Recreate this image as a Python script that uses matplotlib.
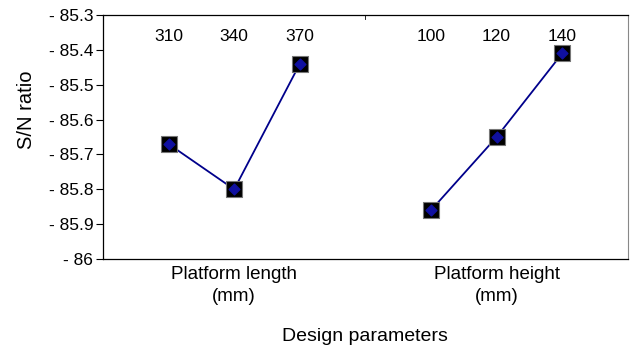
import matplotlib
matplotlib.use("Agg")
import matplotlib.pyplot as plt

# ── data ──────────────────────────────────────────────────────────────────────
groups = ["Platform length\n(mm)", "Platform height\n(mm)"]
length_levels = ["310", "340", "370"]
length_sn = [-85.67, -85.80, -85.44]
height_levels = ["100", "120", "140"]
height_sn = [-85.86, -85.65, -85.41]
yticks = [-86.0, -85.9, -85.8, -85.7, -85.6, -85.5, -85.4, -85.3]

plt.rcParams["font.family"] = ["Liberation Sans", "DejaVu Sans"]

fig = plt.figure(figsize=(6.3, 3.51), dpi=100)
ax = fig.add_axes([0.1635, 0.262, 0.833, 0.695])

navy = "#00008b"
pos_len = [1, 2, 3]
pos_hgt = [5, 6, 7]

for pos, vals, labs in [(pos_len, length_sn, length_levels),
                        (pos_hgt, height_sn, height_levels)]:
    ax.plot(pos, vals, color=navy, lw=1.3, zorder=2)
    ax.scatter(pos, vals, marker="s", s=120, color="black",
               edgecolors="#777777", linewidths=0.8, zorder=3)
    ax.scatter(pos, vals, marker="D", s=30, color="#1010a0",
               edgecolors="#1010a0", zorder=4)
    for p, lab in zip(pos, labs):
        ax.text(p, -85.362, lab, ha="center", va="center", fontsize=12.5)

ax.set_xlim(0, 8)
ax.set_ylim(-86, -85.3)
ax.set_yticks(yticks)
ax.set_yticklabels(["- 86" if v == -86 else f"- {abs(v):.1f}" for v in yticks],
                   fontsize=12.5)
ax.tick_params(axis="y", direction="out", length=5, width=0.8, pad=2)

# category axis: boundary tick only, labels below
ax.set_xticks([4])
ax.set_xticklabels([""])
ax.tick_params(axis="x", direction="in", length=0)
ax.plot([4, 4], [-85.3, -85.31], color="black", lw=0.6, clip_on=False)
for c, g in zip([2, 6], groups):
    ax.text(c, -86.02, g, ha="center", va="top", fontsize=13.5,
            linespacing=1.35)

for s in ["left", "top", "bottom"]:
    ax.spines[s].set_color("black")
    ax.spines[s].set_linewidth(0.9)
ax.spines["right"].set_color("#888888")
ax.spines["right"].set_linewidth(0.8)

ax.set_ylabel("S/N ratio", fontsize=14.5)
ax.yaxis.set_label_coords(-0.128, 0.61)
fig.text(0.579, 0.04, "Design parameters", ha="center", va="center",
         fontsize=14)

fig.savefig("out.png", dpi=100)
